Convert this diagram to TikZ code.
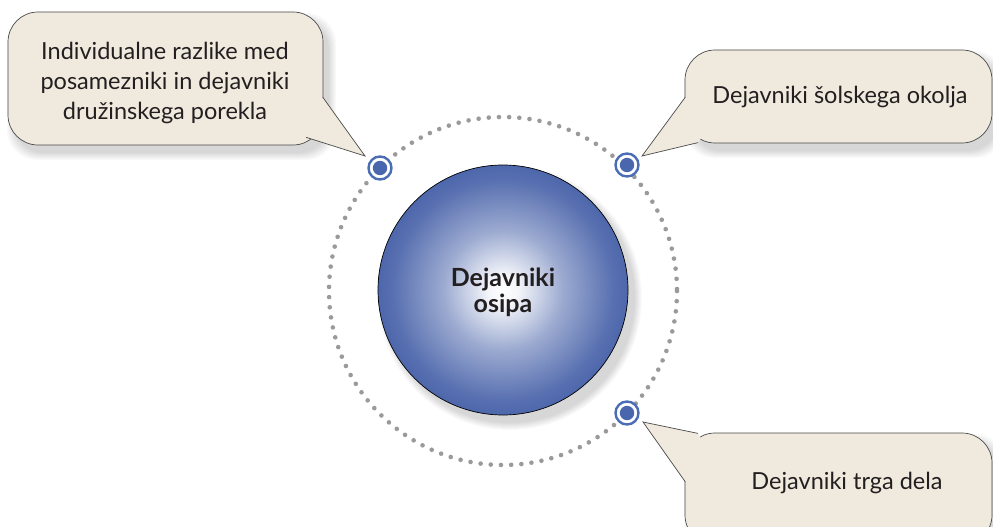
\documentclass[tikz,border=0pt]{standalone}
\usepackage{fontspec}
\setmainfont{Lato}
\usetikzlibrary{calc}
\definecolor{ballblue}{HTML}{4A64AA}
\definecolor{ringblue}{HTML}{4A6DB5}
\definecolor{dotblue}{HTML}{4A67AE}
\definecolor{calloutfill}{HTML}{EFE9DE}
\definecolor{calloutline}{HTML}{4A4A4A}
\definecolor{dotgray}{HTML}{9A9A9A}
\definecolor{txt}{HTML}{231F20}
\pgfdeclareradialshading{ballshade}{\pgfpoint{0bp}{0bp}}{color(0bp)=(white); color(3bp)=(white!94!ballblue); color(12bp)=(white!45!ballblue); color(22bp)=(white!8!ballblue); color(26bp)=(ballblue); color(50bp)=(ballblue)}
\tikzset{
  marker/.style={circle, draw=ringblue, line width=2.4pt, fill=white, minimum size=23pt, inner sep=0pt,
    path picture={\fill[dotblue] (path picture bounding box.center) circle (7.2pt);}},
  callouttext/.style={align=center, text=txt, font=\fontsize{23.5}{30}\selectfont, inner sep=0pt},
  centertext/.style={align=center, text=txt, font=\fontsize{25}{26}\selectfont\bfseries, inner sep=0pt},
  calloutbody/.style={fill=calloutfill, draw=calloutline, line width=0.7pt, rounded corners=30pt},
  tipfill/.style={fill=calloutfill},
  tipline/.style={draw=calloutline, line width=0.7pt, line join=miter},
  ring/.style={draw=dotgray, line width=4.6pt, line cap=round, dash pattern=on 0pt off 10.2pt}
}
\begin{document}
\begin{tikzpicture}[x=1pt,y=-1pt]
\useasboundingbox (0,0) rectangle (993,527);
\fill[white] (0,0) rectangle (993,527);

% shadows (soft)
\foreach \d in {0,2,...,14} {
  \fill[black, opacity=0.018, rounded corners=30pt] ($(8,12)+(6-\d/2,8-\d/2)$) rectangle ($(323,145)+(6+\d/2,8+\d/2)$);
  \fill[black, opacity=0.018, rounded corners=30pt] ($(685,50)+(6-\d/2,8-\d/2)$) rectangle ($(992,143)+(6+\d/2,8+\d/2)$);
  \fill[black, opacity=0.018, rounded corners=30pt] ($(685,433)+(6-\d/2,8-\d/2)$) rectangle ($(992,540)+(6+\d/2,8+\d/2)$);
  \fill[black, opacity=0.02] (510,298) circle ({125+\d/2});
}

% dotted orbit
\coordinate (o) at (503,291);
\draw[ring] (o) circle (174);

% central ball
\node[circle, minimum size=250pt, inner sep=0pt, draw=black, line width=0.7pt, shading=ballshade] (ball) at (503,290) {};
\node[centertext] (ctext) at (503,292) {Dejavniki\\osipa};

% callout 1
\coordinate (t1) at (365,156);
\draw[calloutbody] (8,12) rectangle (323,145);
\fill[tipfill] (t1) -- (322.6,97) -- (280,110) -- (306,137) -- cycle;
\draw[tipline] (322.6,97) -- (t1) -- (306,137.3);
\node[callouttext] (c1) at (165,83) {Individualne razlike med\\posamezniki in dejavniki\\družinskega porekla};

% callout 2
\coordinate (t2) at (642,156);
\draw[calloutbody] (685,50) rectangle (992,143);
\fill[tipfill] (t2) -- (685.4,97) -- (720,110) -- (698,142.6) -- cycle;
\draw[tipline] (685.4,97) -- (t2) -- (698,142.6);
\node[callouttext] (c2) at (840,97) {Dejavniki šolskega okolja};

% callout 3
\coordinate (t3) at (643,422);
\draw[calloutbody] (685,433) rectangle (992,545);
\fill[tipfill] (t3) -- (698,433.4) -- (720,470) -- (685.4,482) -- cycle;
\draw[tipline] (698,433.4) -- (t3) -- (685.4,482);
\node[callouttext] (c3) at (847,483) {Dejavniki trga dela};

% markers
\node[marker] (m1) at (380,168) {};
\node[marker] (m2) at (627,165) {};
\node[marker] (m3) at (627,413) {};
\end{tikzpicture}
\end{document}
